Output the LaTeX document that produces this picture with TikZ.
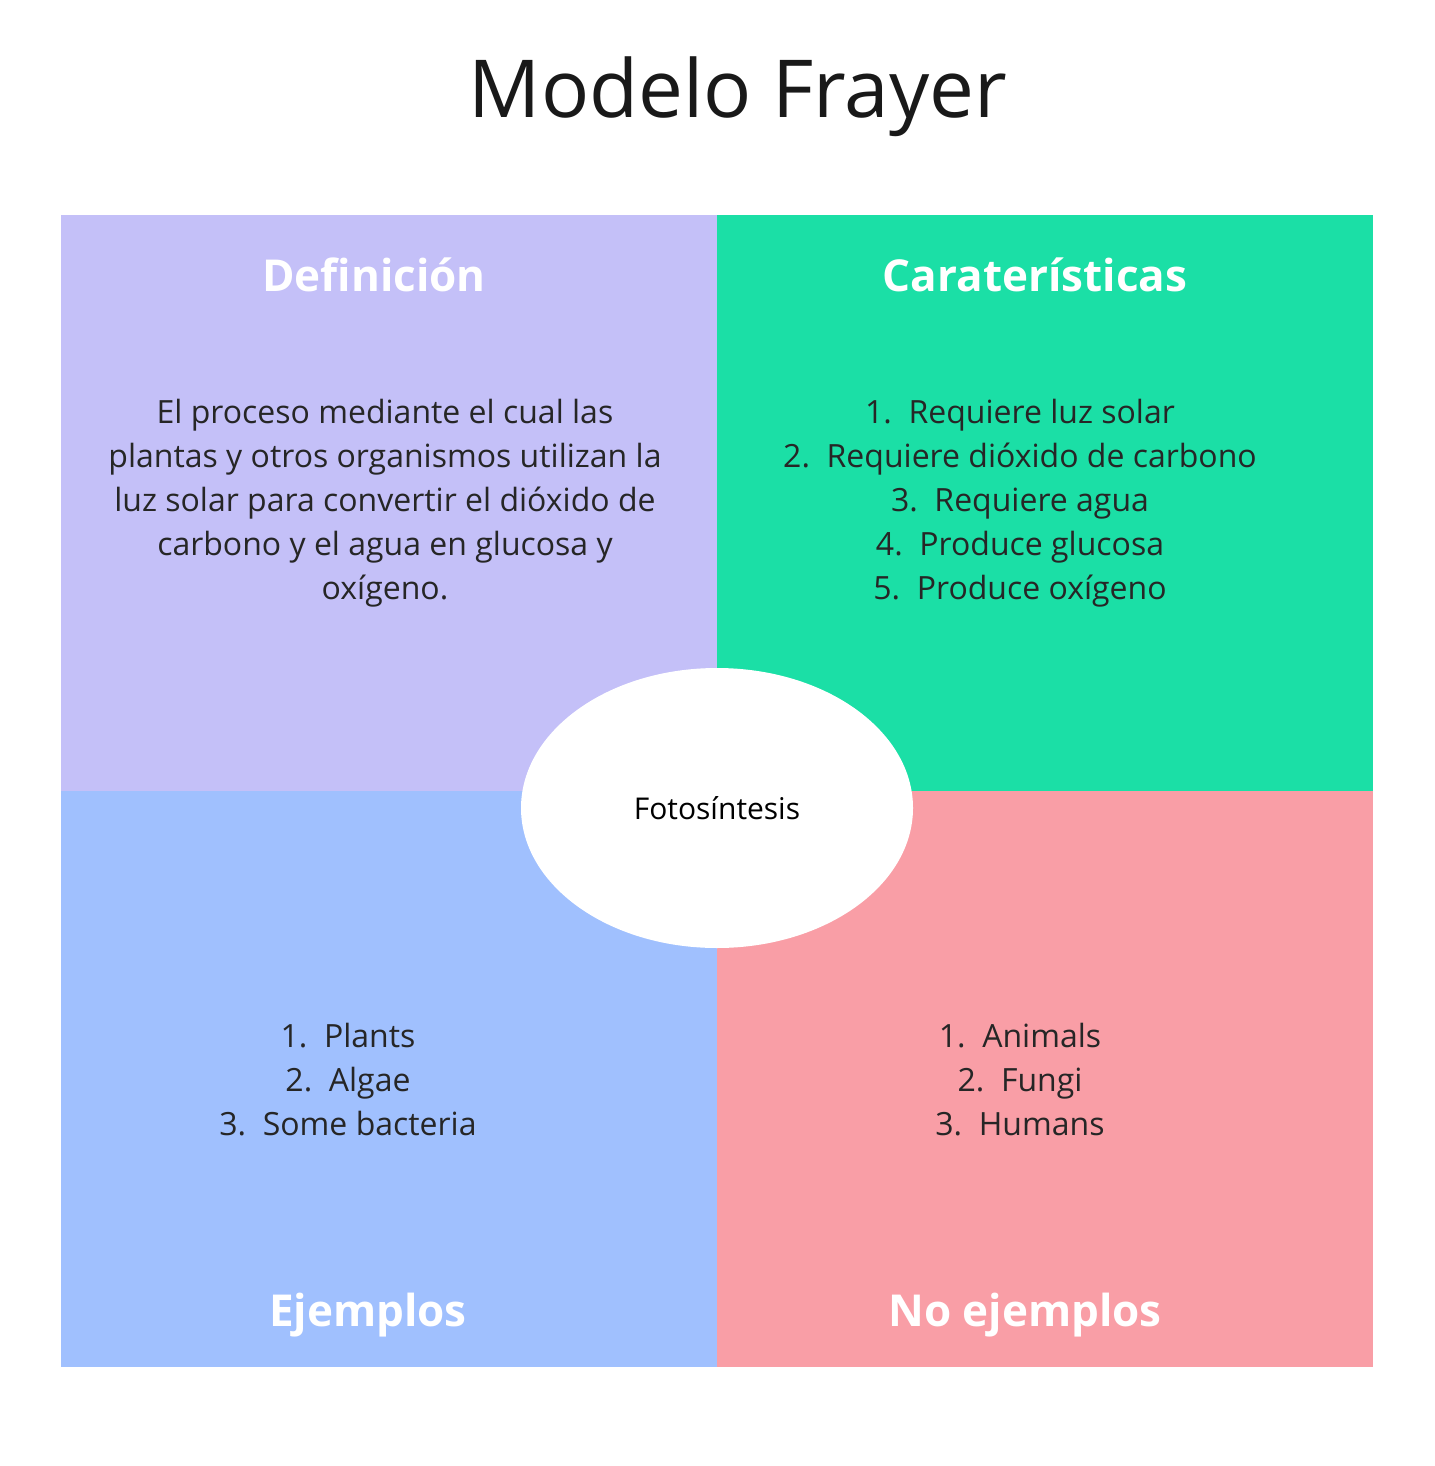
\documentclass[tikz,border=0pt]{standalone}
\usepackage{fontspec}
\setmainfont{Open Sans}
\usetikzlibrary{shapes.geometric}
\definecolor{defcol}{HTML}{C4C0F8}
\definecolor{carcol}{HTML}{1BDFA6}
\definecolor{ejecol}{HTML}{A0C0FE}
\definecolor{noecol}{HTML}{F99EA6}
\tikzset{
  quad/.style={draw=none, minimum width=328pt, minimum height=288pt, inner sep=0pt, anchor=north west},
  heading/.style={text=white, font=\fontsize{22}{26}\selectfont\bfseries},
  body/.style={text=black!85, align=center, font=\fontsize{16}{22}\selectfont}
}
\begin{document}
\begin{tikzpicture}[x=0.5pt,y=-0.5pt]
 \useasboundingbox[fill=white] (0,0) rectangle (1434,1466);

 % title
 \node[font=\fontsize{40}{48}\selectfont, text=black!90] (Title) at (738,97) {Modelo Frayer};

 % four quadrants
 \node[quad, fill=defcol] (Def) at (61,215) {};
 \node[quad, fill=carcol] (Car) at (717,215) {};
 \node[quad, fill=ejecol] (Eje) at (61,791) {};
 \node[quad, fill=noecol] (NoE) at (717,791) {};

 % headings
 \node[heading] (DefHead) at (374,275) {Definición};
 \node[heading] (CarHead) at (1035,275) {Caraterísticas};
 \node[heading] (EjeHead) at (368,1315) {Ejemplos};
 \node[heading] (NoEHead) at (1025,1315) {No ejemplos};

 % contents
 \node[body] (DefText) at (385,503) {El proceso mediante el cual las\\
  plantas y otros organismos utilizan la\\
  luz solar para convertir el dióxido de\\
  carbono y el agua en glucosa y\\
  oxígeno.};
 \node[body] (CarList) at (1020,503) {1.\ \ Requiere luz solar\\
  2.\ \ Requiere dióxido de carbono\\
  3.\ \ Requiere agua\\
  4.\ \ Produce glucosa\\
  5.\ \ Produce oxígeno};
 \node[body] (EjeList) at (348,1080) {1.\ \ Plants\\
  2.\ \ Algae\\
  3.\ \ Some bacteria};
 \node[body] (NoEList) at (1020,1080) {1.\ \ Animals\\
  2.\ \ Fungi\\
  3.\ \ Humans};

 % centre
 \node[ellipse, fill=white, minimum width=196pt, minimum height=140pt,
  font=\fontsize{15}{18}\selectfont] (Concept) at (717,808) {Fotosíntesis};
\end{tikzpicture}
\end{document}
